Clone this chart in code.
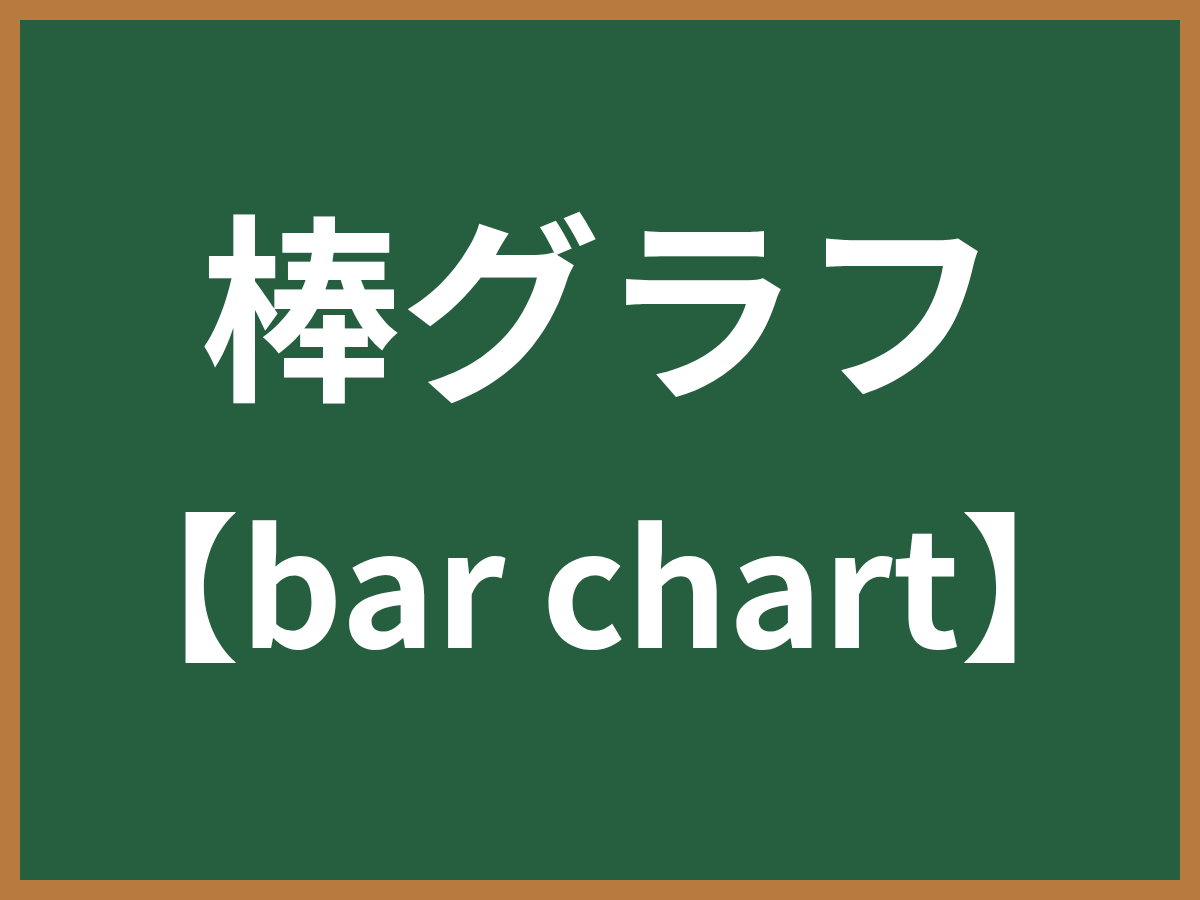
import React from "react";

const titleLines = ["棒グラフ", "【bar chart】"];
const fontSizes = [200, 160];
const baselines = [385, 648];

export default function App() {
  return (
    <svg
      width={1200}
      height={900}
      style={{ position: "fixed", top: 0, left: 0, display: "block" }}
    >
      <rect x={0} y={0} width={1200} height={900} fill="#B97A3E" />
      <rect x={20} y={20} width={1160} height={860} fill="#265E40" />
      {titleLines.map((t, i) => (
        <text
          key={i}
          x={600}
          y={baselines[i]}
          textAnchor="middle"
          fill="#ffffff"
          fontFamily="'Noto Sans CJK JP', 'Noto Sans', sans-serif"
          fontWeight={700}
          fontSize={fontSizes[i]}
        >
          {t}
        </text>
      ))}
    </svg>
  );
}
